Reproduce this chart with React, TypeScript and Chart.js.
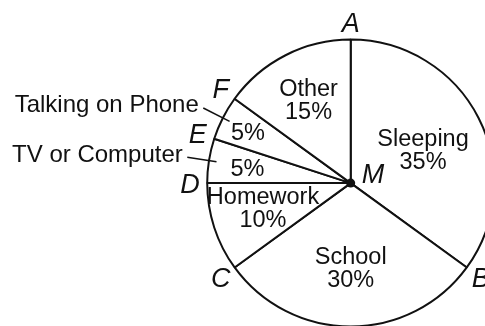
import React, { useEffect, useRef } from 'react';
import { Chart, registerables } from 'chart.js';

Chart.register(...registerables);

// ---- data ----
const categories = ['Sleeping', 'School', 'Homework', 'TV or Computer', 'Talking on Phone', 'Other'];
const percents = [35, 30, 10, 5, 5, 15];
const pointLetters = ['A', 'B', 'C', 'D', 'E', 'F'];
const centerLetter = 'M';
const calloutCategories = ['TV or Computer', 'Talking on Phone'];

// ---- styles / layout ----
const FONT = "'Liberation Sans', Arial, Helvetica, sans-serif";
const INK = '#111111';
const LABEL_SIZE = 23.5;
const CALLOUT_SIZE = 24;
const LINE_H = 23;
const LETTER_SIZE = 27;
// label placement per slice: fraction of radius and angular nudge (degrees)
const labelPlacement = [
  { r: 0.556, da: 2 },
  { r: 0.583, da: 0 },
  { r: 0.634, da: 2.6 },
  { r: 0.727, da: -0.6 },
  { r: 0.8, da: -0.5 },
  { r: 0.654, da: 0.3 },
];

const annotatePlugin = {
  id: 'annotatePie',
  afterDatasetsDraw(chart: any) {
    const meta = chart.getDatasetMeta(0);
    const arcs = meta.data as any[];
    if (!arcs.length) return;
    const ctx = chart.ctx as CanvasRenderingContext2D;
    const first = arcs[0].getProps(['x', 'y', 'outerRadius'], true);
    const cx = first.x;
    const cy = first.y;
    const R = first.outerRadius;
    const pt = (ang: number, f: number) => ({ x: cx + Math.cos(ang) * f * R, y: cy + Math.sin(ang) * f * R });

    ctx.save();
    ctx.fillStyle = INK;
    ctx.strokeStyle = INK;

    arcs.forEach((arc: any, i: number) => {
      const { startAngle, endAngle } = arc.getProps(['startAngle', 'endAngle'], true);
      const mid = (startAngle + endAngle) / 2;
      const pl = labelPlacement[i];
      const lp = pt(mid + (pl.da * Math.PI) / 180, pl.r);
      const isCallout = calloutCategories.includes(categories[i]);
      const lines = isCallout ? [`${percents[i]}%`] : [categories[i], `${percents[i]}%`];

      ctx.font = `${LABEL_SIZE}px ${FONT}`;
      ctx.textAlign = 'center';
      ctx.textBaseline = 'alphabetic';
      lines.forEach((t, k) => {
        const y = lp.y + 0.358 * LABEL_SIZE + (k - (lines.length - 1) / 2) * LINE_H;
        ctx.fillText(t, lp.x, y);
      });

      if (isCallout) {
        const a = pt(mid, 0.947);
        const b = pt(mid, 1.153);
        ctx.lineWidth = 1.5;
        ctx.beginPath();
        ctx.moveTo(a.x, a.y);
        ctx.lineTo(b.x, b.y);
        ctx.stroke();
        ctx.font = `${CALLOUT_SIZE}px ${FONT}`;
        ctx.textAlign = 'right';
        ctx.fillText(categories[i], b.x - 4.5, b.y + 4.5);
      }

      // boundary letter at the slice's starting edge
      const p = pt(startAngle, 1.12);
      ctx.font = `italic ${LETTER_SIZE}px ${FONT}`;
      ctx.textAlign = 'center';
      ctx.fillText(pointLetters[i], p.x, p.y + 0.358 * LETTER_SIZE);
    });

    // center point
    ctx.beginPath();
    ctx.arc(cx, cy, 4.5, 0, Math.PI * 2);
    ctx.fill();
    ctx.font = `italic ${LETTER_SIZE}px ${FONT}`;
    ctx.textAlign = 'left';
    ctx.fillText(centerLetter, cx + 11, cy);
    ctx.restore();
  },
};

export default function App() {
  const ref = useRef<HTMLCanvasElement | null>(null);

  useEffect(() => {
    if (!ref.current) return;
    const chart = new Chart(ref.current, {
      type: 'pie',
      data: {
        labels: categories,
        datasets: [
          {
            data: percents,
            backgroundColor: '#ffffff',
            borderColor: INK,
            borderWidth: 2,
          },
        ],
      },
      options: {
        responsive: false,
        animation: false,
        events: [],
        radius: 143.5,
        layout: { padding: { left: 190, right: 8.6, top: 30, bottom: 3.8 } },
        plugins: {
          legend: { display: false },
          tooltip: { enabled: false },
        },
      } as any,
      plugins: [annotatePlugin],
    });
    return () => chart.destroy();
  }, []);

  return (
    <div
      style={{
        position: 'fixed',
        left: 0,
        top: 0,
        width: 485,
        height: 326,
        overflow: 'hidden',
        background: '#ffffff',
      }}
    >
      <canvas ref={ref} width={520} height={340} style={{ display: 'block', width: 520, height: 340 }} />
    </div>
  );
}
